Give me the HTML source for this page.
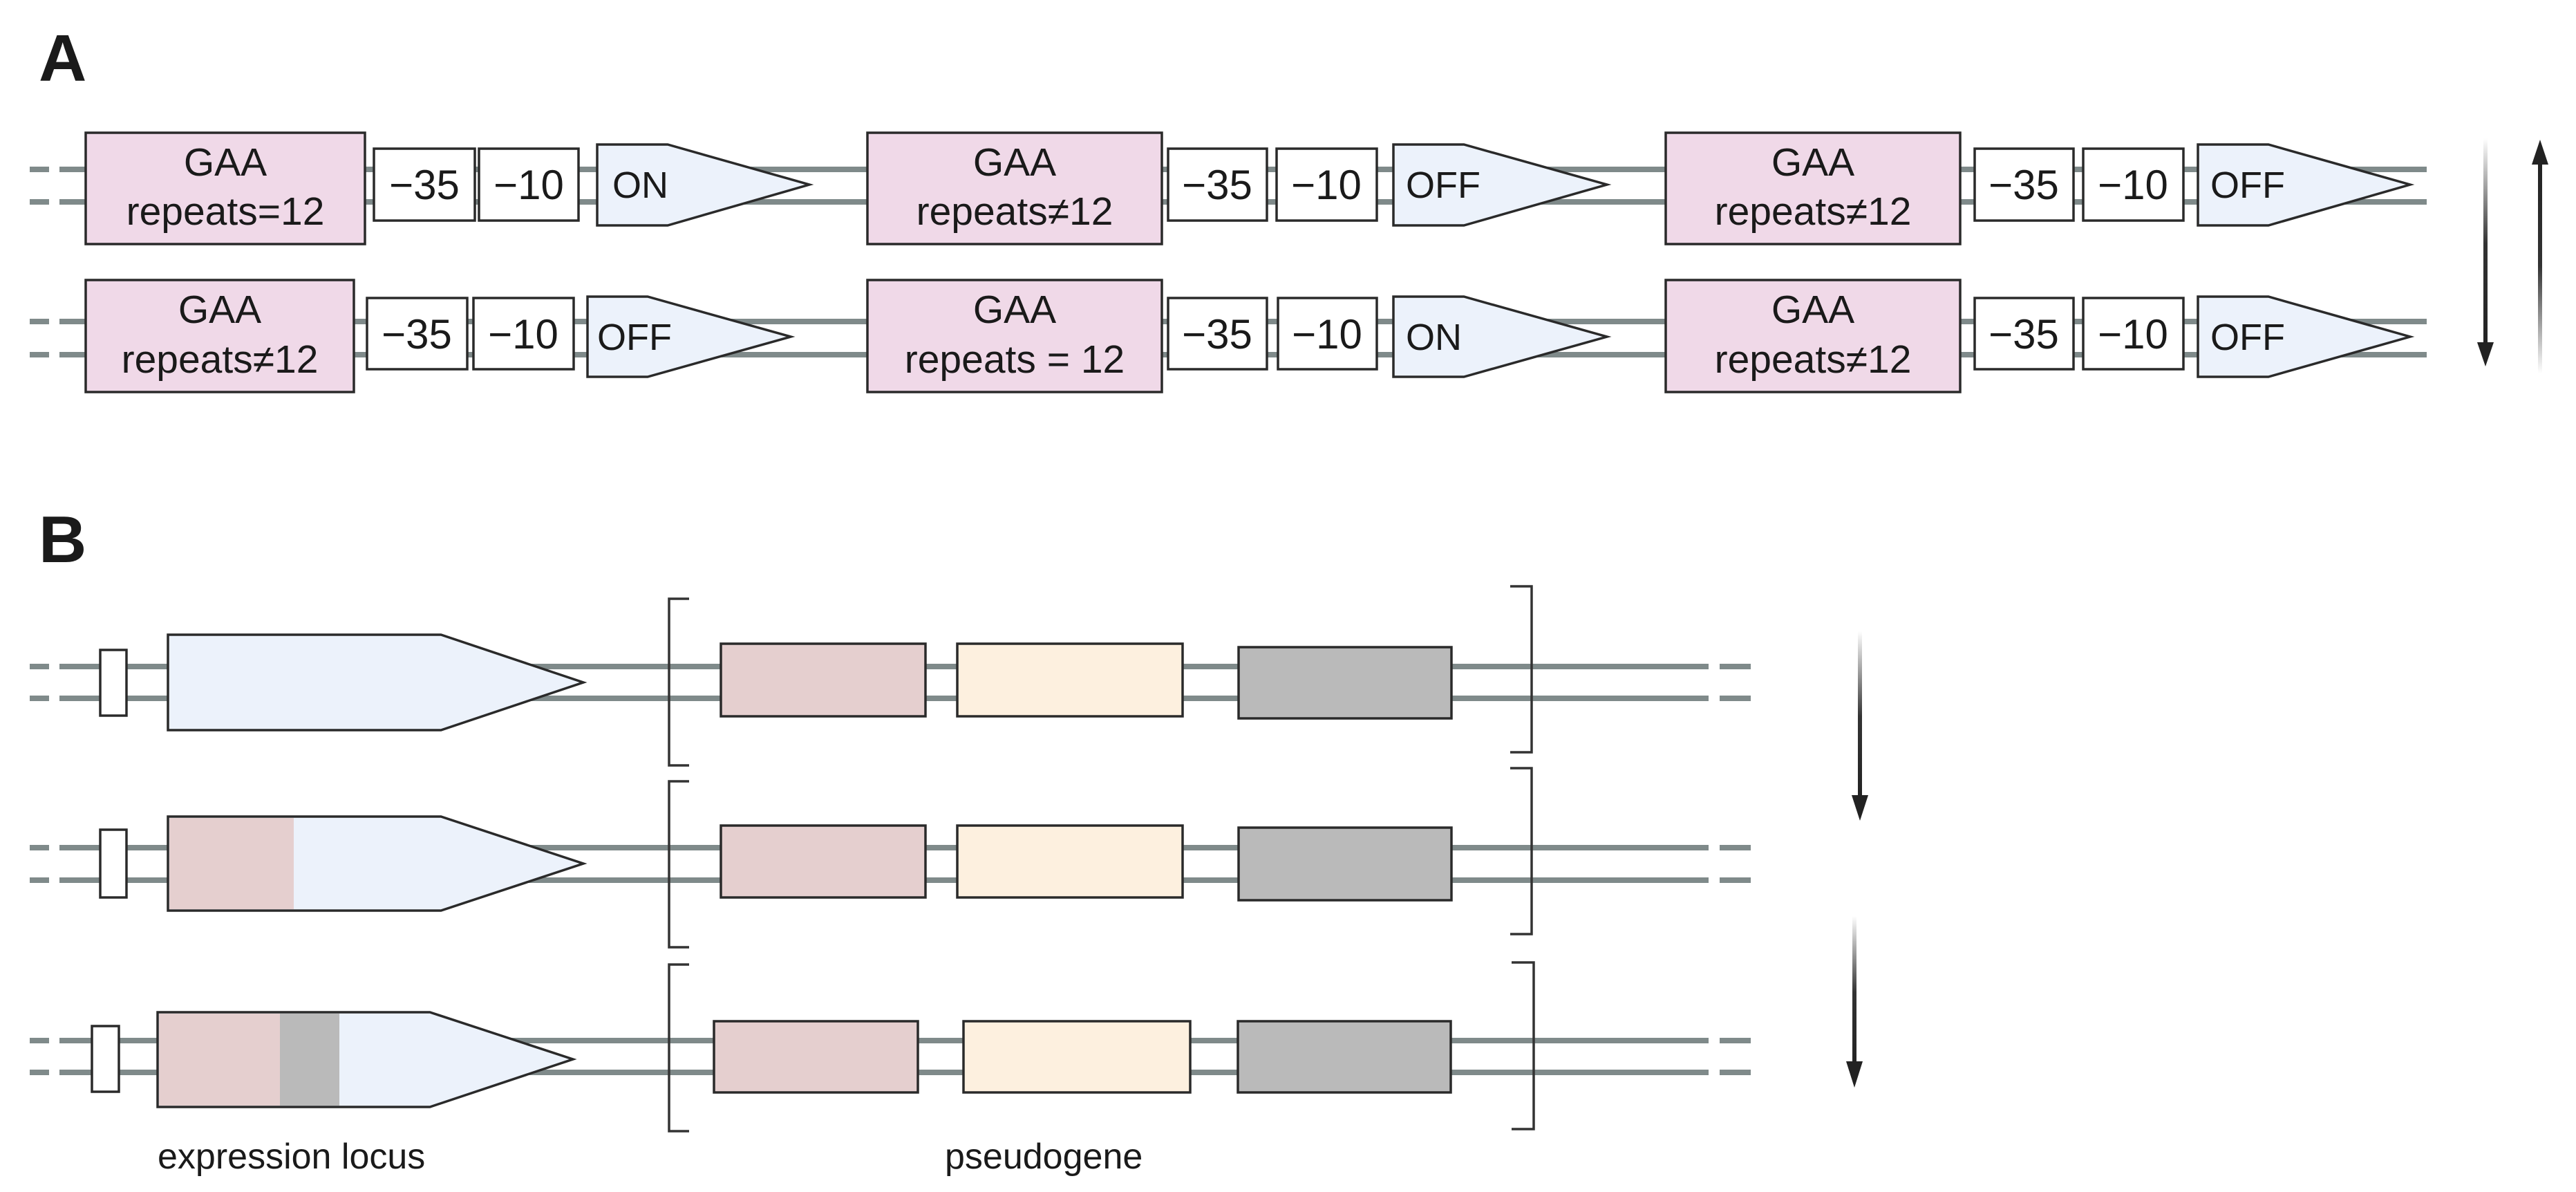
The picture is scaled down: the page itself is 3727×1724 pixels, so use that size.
<!DOCTYPE html>
<html><head><meta charset="utf-8"><style>
html,body{margin:0;padding:0;background:#fff;}
svg{display:block;}
text{font-family:"Liberation Sans","DejaVu Sans",sans-serif;fill:#1a1a1a;}
</style></head><body>
<svg width="3727" height="1724" viewBox="0 0 3727 1724" xmlns="http://www.w3.org/2000/svg">
<defs>
<linearGradient id="gd" x1="0" y1="0" x2="0" y2="1"><stop offset="0" stop-color="#fff"/><stop offset="0.5" stop-color="#333"/><stop offset="1" stop-color="#222"/></linearGradient>
<linearGradient id="gu" x1="0" y1="1" x2="0" y2="0"><stop offset="0" stop-color="#fff"/><stop offset="0.5" stop-color="#333"/><stop offset="1" stop-color="#222"/></linearGradient>
</defs>
<text x="56" y="117" font-size="96" font-weight="bold">A</text>
<text x="56" y="813" font-size="96" font-weight="bold">B</text>

<g stroke="#7f8a8a" stroke-width="8">
<line x1="43" y1="245" x2="71" y2="245"/><line x1="86" y1="245" x2="3511" y2="245"/>
<line x1="43" y1="292" x2="71" y2="292"/><line x1="86" y1="292" x2="3511" y2="292"/>
<line x1="43" y1="465" x2="71" y2="465"/><line x1="86" y1="465" x2="3511" y2="465"/>
<line x1="43" y1="513" x2="71" y2="513"/><line x1="86" y1="513" x2="3511" y2="513"/>
<line x1="43" y1="964" x2="71" y2="964"/><line x1="86" y1="964" x2="2472" y2="964"/><line x1="2488" y1="964" x2="2533" y2="964"/>
<line x1="43" y1="1010" x2="71" y2="1010"/><line x1="86" y1="1010" x2="2472" y2="1010"/><line x1="2488" y1="1010" x2="2533" y2="1010"/>
<line x1="43" y1="1226" x2="71" y2="1226"/><line x1="86" y1="1226" x2="2472" y2="1226"/><line x1="2488" y1="1226" x2="2533" y2="1226"/>
<line x1="43" y1="1273" x2="71" y2="1273"/><line x1="86" y1="1273" x2="2472" y2="1273"/><line x1="2488" y1="1273" x2="2533" y2="1273"/>
<line x1="43" y1="1505" x2="71" y2="1505"/><line x1="86" y1="1505" x2="2472" y2="1505"/><line x1="2488" y1="1505" x2="2533" y2="1505"/>
<line x1="43" y1="1551" x2="71" y2="1551"/><line x1="86" y1="1551" x2="2472" y2="1551"/><line x1="2488" y1="1551" x2="2533" y2="1551"/>
</g>

<g stroke="#2a2a2a" stroke-width="3.5">
<rect x="124" y="192" width="404" height="161" fill="#f0d9e8"/>
<rect x="541" y="215" width="146" height="104" fill="#fff"/>
<rect x="693" y="215" width="144" height="104" fill="#fff"/>
<polygon points="864,209 966,209 1171,267 966,326 864,326" fill="#ecf2fb"/>
<rect x="1255" y="192" width="426" height="161" fill="#f0d9e8"/>
<rect x="1690" y="215" width="143" height="104" fill="#fff"/>
<rect x="1847" y="215" width="145" height="104" fill="#fff"/>
<polygon points="2016,209 2118,209 2325,267 2118,326 2016,326" fill="#ecf2fb"/>
<rect x="2410" y="192" width="426" height="161" fill="#f0d9e8"/>
<rect x="2857" y="215" width="143" height="104" fill="#fff"/>
<rect x="3014" y="215" width="145" height="104" fill="#fff"/>
<polygon points="3180,209 3282,209 3487,267 3282,326 3180,326" fill="#ecf2fb"/>
<rect x="124" y="405" width="388" height="162" fill="#f0d9e8"/>
<rect x="531" y="431" width="145" height="103" fill="#fff"/>
<rect x="685" y="431" width="145" height="103" fill="#fff"/>
<polygon points="850,429 937,429 1144,487 937,545 850,545" fill="#ecf2fb"/>
<rect x="1255" y="405" width="426" height="162" fill="#f0d9e8"/>
<rect x="1690" y="431" width="143" height="103" fill="#fff"/>
<rect x="1849" y="431" width="143" height="103" fill="#fff"/>
<polygon points="2016,429 2118,429 2325,487 2118,545 2016,545" fill="#ecf2fb"/>
<rect x="2410" y="405" width="426" height="162" fill="#f0d9e8"/>
<rect x="2857" y="431" width="143" height="103" fill="#fff"/>
<rect x="3014" y="431" width="145" height="103" fill="#fff"/>
<polygon points="3180,429 3282,429 3487,487 3282,545 3180,545" fill="#ecf2fb"/>
</g>

<g font-size="57" text-anchor="middle">
<text x="326" y="254">GAA</text><text x="326" y="325">repeats=12</text>
<text x="1468" y="254">GAA</text><text x="1468" y="325">repeats≠12</text>
<text x="2623" y="254">GAA</text><text x="2623" y="325">repeats≠12</text>
<text x="318" y="467">GAA</text><text x="318" y="539">repeats≠12</text>
<text x="1468" y="467">GAA</text><text x="1468" y="539">repeats = 12</text>
<text x="2623" y="467">GAA</text><text x="2623" y="539">repeats≠12</text>
</g>
<g font-size="60" text-anchor="middle">
<text x="614" y="288">−35</text><text x="765" y="288">−10</text>
<text x="1761" y="288">−35</text><text x="1919" y="288">−10</text>
<text x="2928" y="288">−35</text><text x="3086" y="288">−10</text>
<text x="603" y="504">−35</text><text x="757" y="504">−10</text>
<text x="1761" y="504">−35</text><text x="1920" y="504">−10</text>
<text x="2928" y="504">−35</text><text x="3086" y="504">−10</text>
</g>
<g font-size="54">
<text x="886" y="286">ON</text>
<text x="2034" y="286">OFF</text>
<text x="3198" y="286">OFF</text>
<text x="864" y="506">OFF</text>
<text x="2034" y="506">ON</text>
<text x="3198" y="506">OFF</text>
</g>

<!-- A side arrows -->
<rect x="3593" y="200" width="6" height="305" fill="url(#gd)"/>
<polygon points="3584,495 3608,495 3596,530" fill="#222"/>
<rect x="3672" y="230" width="6" height="310" fill="url(#gu)"/>
<polygon points="3663,238 3687,238 3675,202" fill="#222"/>

<!-- B -->
<g stroke="#2a2a2a" stroke-width="3.5">
<rect x="145" y="940" width="38" height="95" fill="#fff"/>
<polygon points="243,918 638,918 844,987 638,1056 243,1056" fill="#ecf2fb"/>
<rect x="145" y="1200" width="38" height="98" fill="#fff"/>
<polygon points="243,1181 638,1181 844,1249 638,1317 243,1317" fill="#ecf2fb"/>
<rect x="133" y="1484" width="39" height="95" fill="#fff"/>
<polygon points="228,1464 622,1464 829,1532 622,1601 228,1601" fill="#ecf2fb"/>
</g>
<rect x="245" y="1183" width="180" height="132" fill="#e5cfcf"/>
<rect x="230" y="1466" width="175" height="133" fill="#e5cfcf"/>
<rect x="405" y="1466" width="86" height="133" fill="#bababa"/>

<g stroke="#2a2a2a" stroke-width="3.5">
<rect x="1043" y="931" width="296" height="105" fill="#e5cfcf"/>
<rect x="1385" y="931" width="326" height="105" fill="#fdf0df"/>
<rect x="1792" y="936" width="308" height="103" fill="#bababa"/>
<rect x="1043" y="1194" width="296" height="104" fill="#e5cfcf"/>
<rect x="1385" y="1194" width="326" height="104" fill="#fdf0df"/>
<rect x="1792" y="1197" width="308" height="105" fill="#bababa"/>
<rect x="1033" y="1477" width="295" height="103" fill="#e5cfcf"/>
<rect x="1394" y="1477" width="328" height="103" fill="#fdf0df"/>
<rect x="1791" y="1477" width="308" height="103" fill="#bababa"/>
</g>
<g stroke="#333" stroke-width="3.5" fill="none">
<polyline points="997,866 968,866 968,1107 997,1107"/>
<polyline points="997,1130 968,1130 968,1370 997,1370"/>
<polyline points="997,1395 968,1395 968,1636 997,1636"/>
<polyline points="2185,848 2216,848 2216,1088 2185,1088"/>
<polyline points="2185,1111 2216,1111 2216,1351 2185,1351"/>
<polyline points="2187,1392 2219,1392 2219,1633 2187,1633"/>
</g>
<rect x="2688" y="913" width="6" height="247" fill="url(#gd)"/>
<polygon points="2679,1150 2703,1150 2691,1187" fill="#222"/>
<rect x="2680" y="1325" width="6" height="220" fill="url(#gd)"/>
<polygon points="2671,1535 2695,1535 2683,1573" fill="#222"/>

<text x="228" y="1690" font-size="52">expression locus</text>
<text x="1367" y="1690" font-size="52">pseudogene</text>
</svg>
</body></html>
